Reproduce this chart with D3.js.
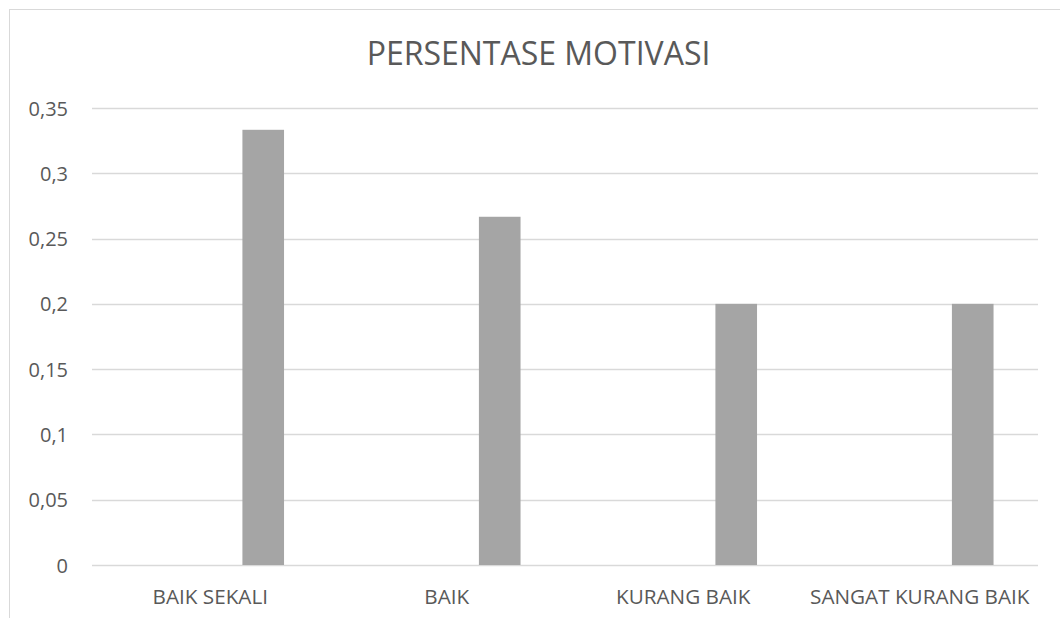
<!DOCTYPE html>
<html>
<head>
<meta charset="utf-8">
<script src="https://cdn.jsdelivr.net/npm/d3@7/dist/d3.min.js"></script>
<style>
  html, body { margin: 0; padding: 0; background: #ffffff; }
  svg { display: block; }
  text { font-family: "Open Sans", "Noto Sans", sans-serif; fill: #595959; }
</style>
</head>
<body>
<svg id="chart" width="1060" height="618"></svg>
<script>
const title = "PERSENTASE MOTIVASI";
const categories = ["BAIK SEKALI", "BAIK", "KURANG BAIK", "SANGAT KURANG BAIK"];
const values = [0.3333, 0.2667, 0.2, 0.2];
const tickValues = [0, 0.05, 0.1, 0.15, 0.2, 0.25, 0.3, 0.35];
const tickLabels = ["0", "0,05", "0,1", "0,15", "0,2", "0,25", "0,3", "0,35"];

const W = 1060, H = 618;
const svg = d3.select("#chart");

// chart area border (extends beyond the visible frame)
svg.append("rect")
  .attr("x", 9.5).attr("y", 9.5)
  .attr("width", 1200).attr("height", 1000)
  .attr("fill", "#ffffff").attr("stroke", "#d9d9d9").attr("stroke-width", 1);

const plot = { left: 92, right: 1038, top: 108, bottom: 565 };

const x = d3.scaleBand().domain(categories).range([plot.left, plot.right]).paddingInner(0).paddingOuter(0);
const y = d3.scaleLinear().domain([0, 0.35]).range([plot.bottom, plot.top]);

// gridlines
svg.append("g").selectAll("line").data(tickValues).join("line")
  .attr("x1", plot.left).attr("x2", plot.right)
  .attr("y1", d => Math.round(y(d)) + 0.5).attr("y2", d => Math.round(y(d)) + 0.5)
  .attr("stroke", "#d9d9d9").attr("stroke-width", 1.3);

// bars (sit in the right part of each category slot)
const barOffset = 0.636, barFrac = 0.176;
svg.append("g").selectAll("rect").data(values).join("rect")
  .attr("x", (d, i) => x(categories[i]) + x.bandwidth() * barOffset)
  .attr("width", x.bandwidth() * barFrac)
  .attr("y", d => y(d))
  .attr("height", d => y(0) - y(d))
  .attr("fill", "#a5a5a5");

// y axis labels
const yAxis = d3.axisLeft(y).tickValues(tickValues)
  .tickFormat((d, i) => tickLabels[i]).tickSize(0).tickPadding(0);
const gy = svg.append("g").attr("transform", `translate(68,0)`).call(yAxis);
gy.select(".domain").remove();
gy.selectAll("text").attr("font-size", 20).attr("fill", "#595959")
  .attr("font-family", "Open Sans").attr("dy", "0.35em");

// x axis labels
const xAxis = d3.axisBottom(x).tickSize(0).tickPadding(0);
const gx = svg.append("g").attr("transform", `translate(0,${plot.bottom})`).call(xAxis);
gx.select(".domain").remove();
gx.selectAll("text").attr("font-size", 20.7).attr("fill", "#595959")
  .attr("font-family", "Open Sans").attr("y", 39).attr("dy", 0);

// title
svg.append("text")
  .attr("x", 538.5).attr("y", 65)
  .attr("text-anchor", "middle")
  .attr("font-size", 32)
  .attr("font-weight", 400)
  .text(title);
</script>
</body>
</html>
